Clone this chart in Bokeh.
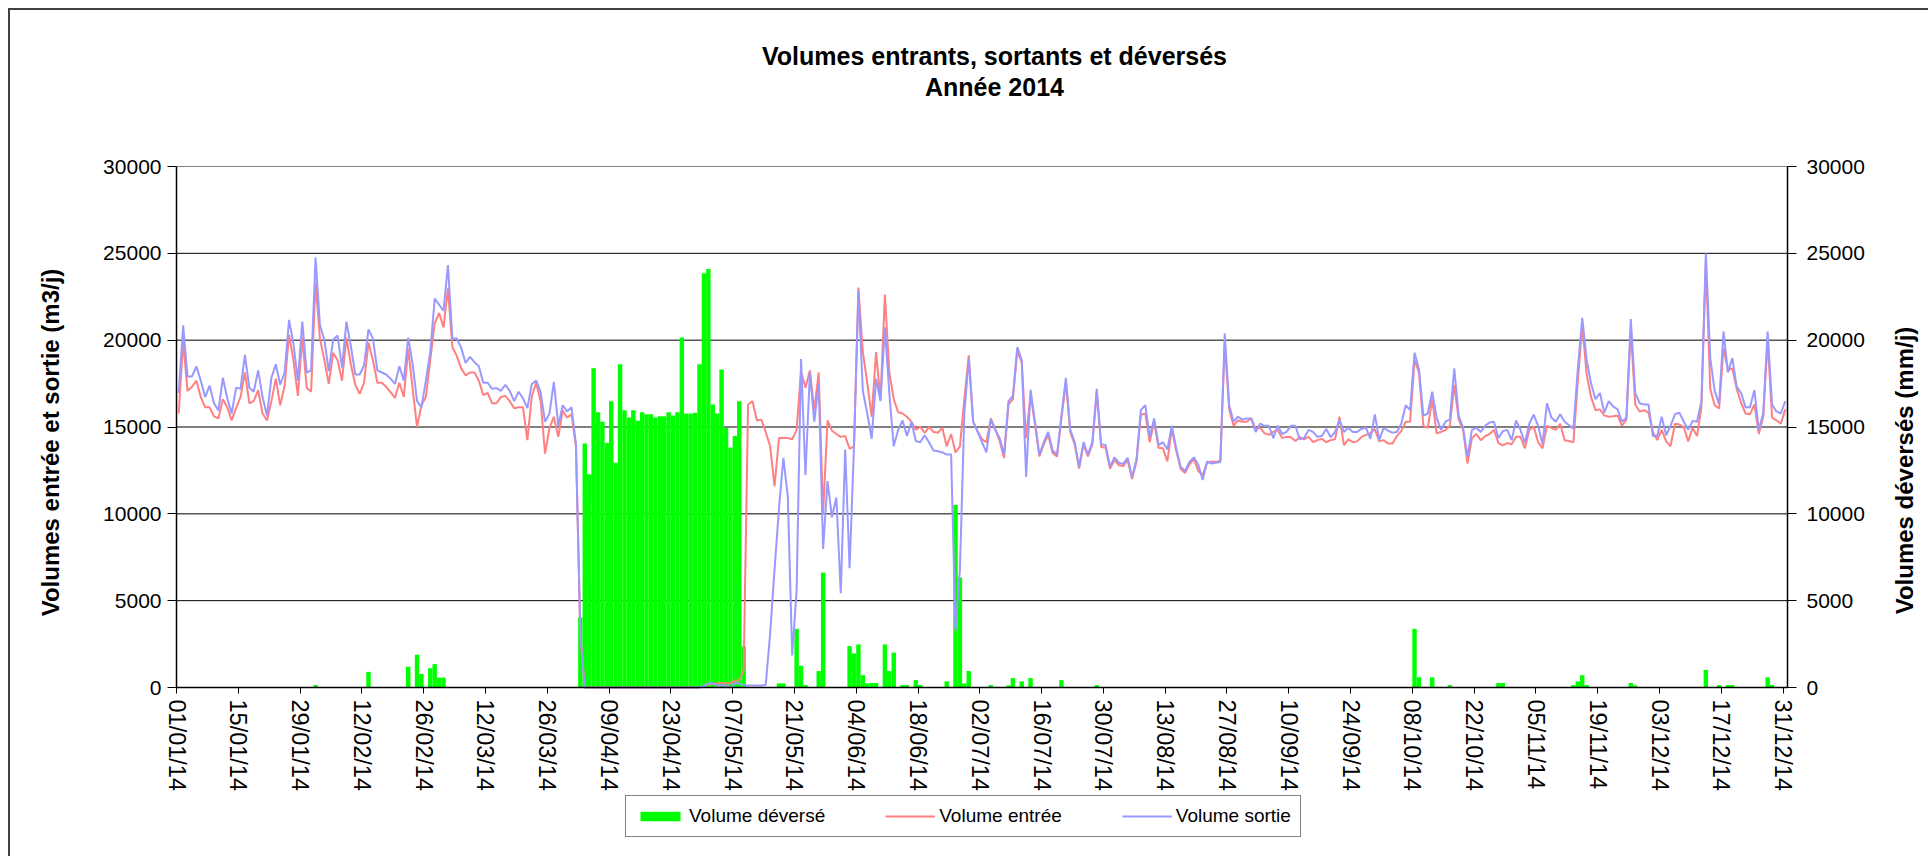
import math
import pandas as pd
from bokeh.plotting import figure
from bokeh.models import Range1d, LinearAxis, FixedTicker, Label, Legend, LegendItem, ColumnDataSource
from bokeh.embed import file_html
from bokeh.resources import INLINE

# ---------------- data ----------------
year_start = "2014-01-01"

# Volume entrée (m3/j), one value per day, 01/01/14 .. 31/12/14
volume_entree = [
    # janvier
    15778, 19912, 17077, 17313, 17668, 16723, 16132, 16132, 15613, 15495,
    16605, 16132, 15377, 16085, 16723, 18140, 16369, 16487, 17125, 15778,
    15377, 16487, 17786, 16251, 17384, 20313, 18849, 16794, 20148, 17266, 17030,
    # fevrier
    23337, 20101, 18849, 17479, 19274, 18849, 17668, 20148, 18613, 17432,
    16912, 17550, 19864, 18849, 17550, 17550, 17313, 17006, 16676, 17550,
    16723, 19510, 17195, 15022, 16251, 16723, 18849, 20975,
    # mars
    21565, 20738, 22982, 19605, 19085, 18376, 17975, 18140, 18140, 17668,
    16841, 16959, 16369, 16369, 16723, 16794, 16487, 16085, 16132, 16132,
    14243, 16770, 17550, 16487, 13463, 14951, 15589, 14432, 15944, 15542, 15731,
    # avril
    13900, 3000, 0, 0, 0, 0, 0, 0, 0, 0,
    0, 0, 0, 0, 0, 0, 0, 0, 0, 0,
    0, 0, 0, 0, 0, 0, 0, 0, 0, 100,
    # mai
    200, 200, 240, 240, 240, 240, 400, 420, 1000, 16298,
    16487, 15377, 15424, 14715, 13888, 11597, 14361, 14361, 14361, 14290,
    14833, 18200, 17266, 18258, 15967, 18140, 10000, 15377, 14786, 14597, 14432,
    # juin
    14479, 13747, 13888, 23030, 19321, 17550, 15589, 19321, 16558, 22628,
    18140, 16605, 15849, 15778, 15589, 15306, 14833, 15022, 14668, 14998,
    14715, 14668, 14951, 13888, 14597, 13534, 13888, 16605, 19132, 15306,
    # juillet
    14763, 14290, 14125, 15495, 14880, 14200, 13200, 16300, 16600, 19400,
    18700, 14361, 16900, 15150, 13300, 14000, 14550, 13500, 13300, 15500,
    17600, 14700, 14000, 12600, 14000, 13300, 14000, 17000, 13850, 13800, 12600,
    # aout
    13100, 12800, 12750, 13100, 12000, 13000, 15700, 15778, 14125, 15306,
    13800, 13770, 13015, 14900, 13650, 12600, 12350, 12850, 13150, 12471,
    12235, 12944, 13015, 12991, 13062, 19794, 16014, 15070, 15377, 15306, 15306,
    # septembre
    15495, 14881, 14951, 14644, 14550, 14715, 14833, 14361, 14432, 14408,
    14196, 14408, 14290, 14432, 14125, 14243, 14314, 14125, 14243, 14300,
    15589, 13960, 14290, 14125, 14172, 14432, 14550, 14644, 14881, 14172,
    # octobre
    14243, 14054, 14054, 14479, 14763, 15306, 15306, 18849, 18140, 15070,
    14951, 16605, 14644, 14715, 14833, 15070, 17432, 15424, 14833, 12897,
    14361, 14597, 14243, 14479, 14597, 14833, 14077, 13936, 14077, 14007, 14432,
    # novembre
    14432, 13770, 14833, 15023, 14125, 13770, 15070, 14951, 14833, 15188,
    14243, 14196, 14125, 17668, 20857, 18022, 16723, 15967, 16014, 15660,
    15589, 15613, 15660, 15070, 15424, 20620, 16298, 15896, 15967, 15825,
    # decembre
    14715, 14243, 14833, 14172, 13888, 15188, 15140, 14999, 14172, 14951,
    14479, 16132, 24518, 17195, 16251, 16061, 19557, 18258, 18376, 17195,
    16369, 15778, 15731, 16298, 14597, 15589, 20030, 15542, 15377, 15188, 16014,
]

# Volume sortie (m3/j)
volume_sortie = [
    # janvier
    16960, 20856, 17904, 17904, 18494, 17668, 16723, 17384, 16369, 15944,
    17833, 16652, 15778, 17266, 17195, 19156, 17266, 17030, 18258, 16723,
    15660, 17833, 18613, 17432, 18140, 21164, 19794, 17668, 21069, 18140, 18258,
    # fevrier
    24754, 20856, 20030, 18211, 20030, 20266, 18424, 21069, 19675, 18022,
    18022, 18542, 20620, 20101, 18258, 18140, 18022, 17786, 17479, 18494,
    17668, 20148, 18613, 16487, 16132, 17668, 19321, 22392,
    # mars
    22037, 21683, 24329, 20101, 20101, 19557, 18683, 19038, 18731, 18494,
    17550, 17550, 17195, 17242, 17077, 17432, 17077, 16487, 17030, 16652,
    16085, 17479, 17668, 17006, 15306, 15778, 17597, 15070, 16251, 15896, 16132,
    # avril
    14007, 3000, 0, 0, 0, 0, 0, 0, 0, 0,
    0, 0, 0, 0, 0, 0, 0, 0, 0, 0,
    0, 0, 0, 0, 0, 0, 0, 0, 0, 100,
    # mai
    240, 240, 120, 120, 120, 0, 240, 240, 120, 120,
    120, 120, 120, 150, 3100, 6800, 10300, 13227, 11000, 1842,
    5622, 18920, 12235, 18140, 15306, 17503, 7983, 11881, 9802, 10936, 5433,
    # juin
    13700, 6873, 13888, 22864, 17077, 15778, 14314, 17786, 16487, 20738,
    16959, 13888, 14833, 15377, 14479, 15306, 14196, 14125, 14526, 14125,
    13652, 13605, 13534, 13416, 13416, 3260, 6802, 15778, 18920, 15306,
    # juillet
    14715, 14125, 13534, 15424, 14833, 14361, 13416, 16487, 16794, 19605,
    18849, 12117, 17148, 15306, 13416, 14125, 14715, 13652, 13416, 15660,
    17833, 14833, 14125, 12708, 14125, 13416, 14125, 17195, 14007, 13960, 12708,
    # aout
    13251, 12944, 12873, 13227, 12117, 13133, 15967, 16251, 14432, 15495,
    13960, 14125, 13700, 15070, 13770, 12708, 12471, 12991, 13251, 12826,
    11952, 13015, 12897, 12944, 12990, 20384, 16251, 15306, 15589, 15424, 15495,
    # septembre
    15495, 14715, 15188, 15070, 15070, 14361, 15070, 14597, 14715, 15070,
    15070, 14290, 14361, 14833, 14715, 14432, 14479, 14881, 14408, 14715,
    15377, 14715, 14951, 14715, 14715, 14904, 14951, 14314, 15731, 14243,
    # octobre
    14951, 14786, 14668, 14715, 15188, 16251, 15967, 19274, 18329, 15660,
    15778, 17030, 15542, 14833, 15306, 15424, 18376, 15660, 14951, 13298,
    14833, 14951, 14715, 15070, 15259, 15306, 14361, 14763, 14833, 14243, 15377,
    # novembre
    14833, 14077, 15188, 15707, 15070, 14007, 16369, 15542, 15306, 15731,
    15306, 15100, 14904, 18376, 21282, 18849, 17500, 16605, 16959, 15825,
    16487, 16180, 16014, 15306, 15542, 21211, 16959, 16369, 16298, 16298,
    # decembre
    14479, 14479, 15589, 14526, 15070, 15731, 15825, 15306, 14833, 15353,
    15306, 16487, 24990, 18967, 17077, 16321, 20502, 18140, 18967, 17313,
    16959, 16132, 16132, 17124, 14833, 15778, 20502, 16298, 15896, 15778, 16487,
]

# Volume déversé (mm/j): days with a non-zero value
deverse_dates = [
    "01/02", "13/02", "22/02", "24/02", "25/02", "27/02", "28/02", "01/03", "02/03",
    "02/04", "03/04", "04/04", "05/04", "06/04", "07/04", "08/04", "09/04", "10/04",
    "11/04", "12/04", "13/04", "14/04", "15/04", "16/04", "17/04", "18/04", "19/04",
    "20/04", "21/04", "22/04", "23/04", "24/04", "25/04", "26/04", "27/04", "28/04",
    "29/04", "30/04", "01/05", "02/05", "03/05", "04/05", "05/05", "06/05", "07/05",
    "08/05", "09/05", "17/05", "18/05", "21/05", "22/05", "23/05", "26/05", "27/05",
    "02/06", "03/06", "04/06", "05/06", "06/06", "07/06", "08/06", "10/06", "11/06",
    "12/06", "14/06", "15/06", "17/06", "18/06", "24/06", "26/06", "27/06", "28/06",
    "29/06", "04/07", "08/07", "09/07", "11/07", "13/07", "20/07", "28/07",
    "08/10", "09/10", "12/10", "16/10", "27/10", "28/10",
    "13/11", "14/11", "15/11", "16/11", "26/11", "27/11",
    "13/12", "16/12", "18/12", "19/12", "27/12", "28/12",
]
deverse_values = [
    140, 900, 1200, 1890, 780, 1110, 1346, 567, 567,
    4040, 14054, 12282, 18376, 15849, 15306, 14077, 16487, 12944,
    18613, 15967, 15542, 15967, 15353, 15849, 15731, 15731, 15542,
    15613, 15613, 15849, 15660, 15849, 20148, 15778, 15778, 15825,
    18613, 23856, 24092, 16298, 15778, 18305, 14951, 13818, 14479,
    16487, 2362, 236, 236, 3378, 1252, 140, 945, 6614,
    2386, 1960, 2480, 709, 236, 260, 260, 2480, 945,
    2008, 140, 140, 425, 140, 354, 10511, 6330, 236,
    945, 140, 118, 543, 354, 543, 425, 140,
    3378, 590, 590, 140, 260, 260,
    140, 354, 709, 140, 260, 120,
    1016, 140, 140, 140, 590, 140,
]

tick_labels = [
    "01/01/14", "15/01/14", "29/01/14", "12/02/14", "26/02/14", "12/03/14", "26/03/14",
    "09/04/14", "23/04/14", "07/05/14", "21/05/14", "04/06/14", "18/06/14", "02/07/14",
    "16/07/14", "30/07/14", "13/08/14", "27/08/14", "10/09/14", "24/09/14", "08/10/14",
    "22/10/14", "05/11/14", "19/11/14", "03/12/14", "17/12/14", "31/12/14",
]
y_ticks = [0, 5000, 10000, 15000, 20000, 25000, 30000]

title_line1 = "Volumes entrants, sortants et déversés"
title_line2 = "Année 2014"
left_label = "Volumes entrée et sortie (m3/j)"
right_label = "Volumes déversés (mm/j)"
legend_labels = ["Volume déversé", "Volume entrée", "Volume sortie"]

assert len(volume_entree) == 365 and len(volume_sortie) == 365
assert len(deverse_dates) == len(deverse_values)

# ---------------- positions (day axis) ----------------
t0 = pd.Timestamp(year_start)
dates = pd.date_range(year_start, periods=len(volume_entree), freq="D")
x_days = [(d - t0).days + 0.5 for d in dates]
dev_x = [(pd.to_datetime(d + "/2014", format="%d/%m/%Y") - t0).days + 0.5 for d in deverse_dates]
tick_pos = [(pd.to_datetime(t, format="%d/%m/%y") - t0).days for t in tick_labels]
n_days = len(dates)
y_max = y_ticks[-1]

# ---------------- canvas geometry ----------------
# The whole canvas is the plot frame; the chart's plot area sits inside it.
W, H = 1920, 848                      # canvas (page offset 10,10: 8px margin + 2px border)
PL, PR, PT, PB = 166, 1777, 156, 677  # plot area inside the canvas (px)
sx = (PR - PL) / n_days               # px per day
sy = (PB - PT) / y_max                # px per m3/j
x_lo, x_hi = -PL / sx, (W - PL) / sx
y_lo, y_hi = -(H - PB) / sy, PB / sy


def cx(px):
    """canvas px (from left) -> data x"""
    return (px - PL) / sx


def cy(py):
    """canvas px (from top) -> data y"""
    return (PB - py) / sy


FONT = "Liberation Sans"

p = figure(width=W, height=H, x_range=Range1d(x_lo, x_hi), y_range=Range1d(y_lo, y_hi),
           output_backend="svg", toolbar_location=None, title_location=None,
           min_border=0, min_border_left=0, min_border_right=0, min_border_top=0, min_border_bottom=0,
           background_fill_color="white", border_fill_color="white")
p.extra_y_ranges = {"dev": Range1d(y_lo, y_hi)}
p.outline_line_color = None
p.xgrid.visible = False
p.ygrid.visible = False
p.styles = {"margin-left": "8px", "margin-top": "8px",
            "border-top": "2px solid #404040", "border-left": "2px solid #404040"}

# ---------------- horizontal grid lines + top border of plot area ----------------
grid_y = y_ticks[1:-1]
p.segment(x0=[0] * len(grid_y), x1=[n_days] * len(grid_y), y0=grid_y, y1=grid_y,
          line_color="black", line_width=1)
p.segment(x0=[0], x1=[n_days], y0=[y_max], y1=[y_max], line_color="#808080", line_width=1)

# ---------------- axes (fixed at the plot-area edges) ----------------
xax = p.xaxis[0]
xax.fixed_location = 0
xax.bounds = (0, n_days)
xax.ticker = FixedTicker(ticks=tick_pos)
xax.major_label_overrides = {tp: lab for tp, lab in zip(tick_pos, tick_labels)}
xax.major_label_orientation = "vertical"
xax.major_label_text_font = FONT
xax.major_label_text_font_size = "23.5px"
xax.major_label_text_color = "black"
xax.major_tick_out = 6
xax.major_tick_in = 0
xax.minor_tick_out = 0
xax.minor_tick_in = 0
xax.major_label_standoff = 6
xax.axis_line_color = "black"
xax.axis_line_width = 1.5
xax.major_tick_line_color = "black"

yax = p.yaxis[0]
yax.fixed_location = 0
rax = LinearAxis(y_range_name="dev", fixed_location=n_days)
p.add_layout(rax, "right")

for ax, standoff in ((yax, 6), (rax, 10)):
    ax.bounds = (0, y_max)
    ax.ticker = FixedTicker(ticks=y_ticks)
    ax.major_label_text_font = FONT
    ax.major_label_text_font_size = "21px"
    ax.major_label_text_color = "black"
    ax.major_tick_out = 9
    ax.major_tick_in = 0
    ax.minor_tick_out = 0
    ax.minor_tick_in = 0
    ax.major_label_standoff = standoff
    ax.axis_line_color = "black"
    ax.axis_line_width = 1.5
    ax.major_tick_line_color = "black"

# ---------------- glyphs ----------------
bar_src = ColumnDataSource(dict(x=dev_x, top=deverse_values))
line_src = ColumnDataSource(dict(x=x_days, entree=volume_entree, sortie=volume_sortie))

r_bar = p.vbar(x="x", top="top", width=1.0, source=bar_src, y_range_name="dev",
               fill_color="#00FF00", line_color=None)
r_in = p.line("x", "entree", source=line_src, line_color="#FF8080", line_width=2)
r_out = p.line("x", "sortie", source=line_src, line_color="#9999FF", line_width=2)

# ---------------- texts: title and axis titles ----------------
for txt, py in ((title_line1, 45), (title_line2, 76)):
    p.add_layout(Label(x=cx(984), y=cy(py), text=txt, text_align="center", text_baseline="middle",
                       text_font=FONT, text_font_style="bold", text_font_size="25px",
                       text_color="black"))

p.add_layout(Label(x=cx(40), y=cy(432), text=left_label, angle=math.pi / 2,
                   text_align="center", text_baseline="middle",
                   text_font=FONT, text_font_style="bold", text_font_size="24px", text_color="black"))
p.add_layout(Label(x=cx(1894), y=cy(460), text=right_label, angle=math.pi / 2,
                   text_align="center", text_baseline="middle",
                   text_font=FONT, text_font_style="bold", text_font_size="24px", text_color="black"))

# ---------------- legend ----------------
LEG_LEFT, LEG_TOP, LEG_H = 615, 787, 40
legend = Legend(
    items=[LegendItem(label=legend_labels[0], renderers=[r_bar]),
           LegendItem(label=legend_labels[1], renderers=[r_in]),
           LegendItem(label=legend_labels[2], renderers=[r_out])],
    orientation="horizontal", location=(LEG_LEFT, H - LEG_TOP - LEG_H),
    label_text_font=FONT, label_text_font_size="19px", label_text_color="black",
    glyph_width=50, glyph_height=12, label_height=12, label_standoff=4,
    spacing=60, padding=9, margin=0,
    border_line_color="black", border_line_width=1,
    background_fill_color="white", background_fill_alpha=1.0,
)
p.add_layout(legend, "center")

open("out.html", "w").write(file_html(p, INLINE))
